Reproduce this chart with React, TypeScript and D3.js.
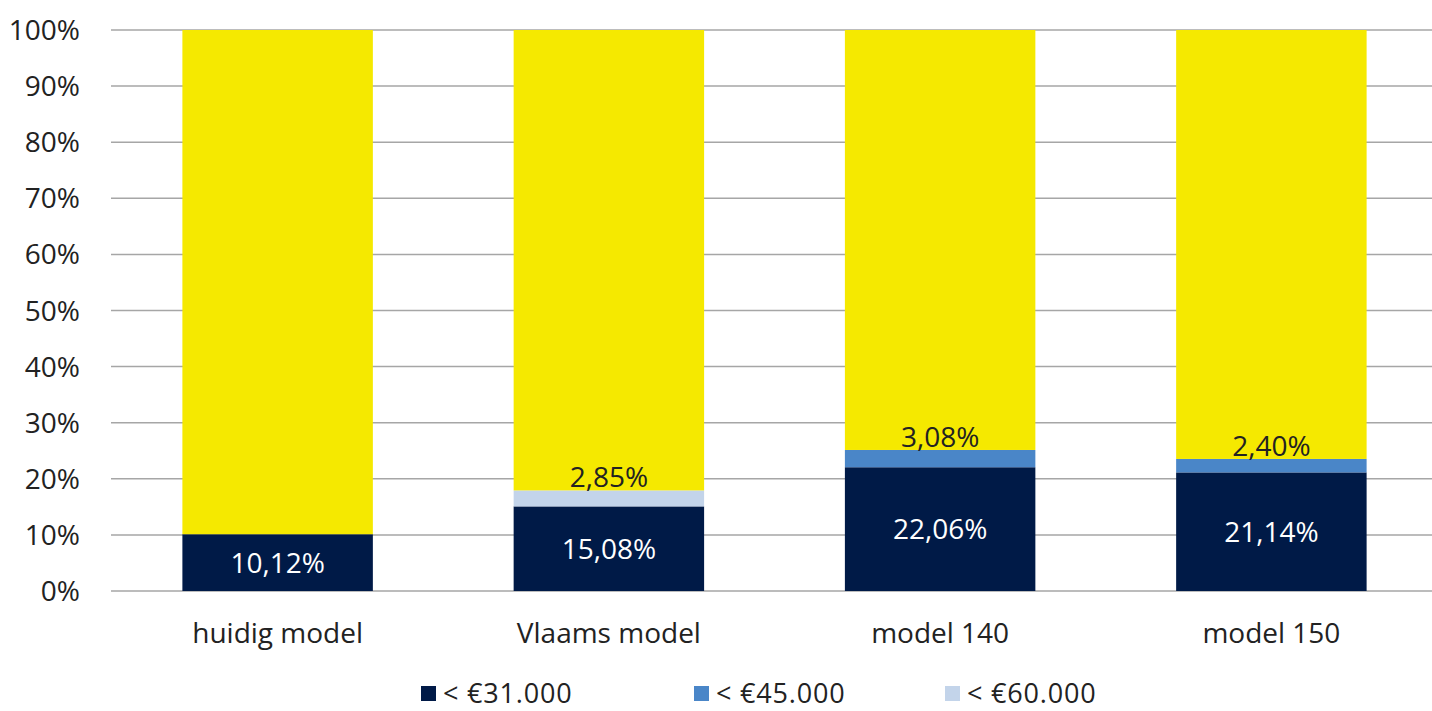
import React from "react";
import * as d3 from "d3";

const categories = ["huidig model", "Vlaams model", "model 140", "model 150"];
const seriesNames = ["< €31.000", "< €45.000", "< €60.000", "rest"];
const below31 = [10.12, 15.08, 22.06, 21.14];
const below45 = [0, 0, 3.08, 2.4];
const below60 = [0, 2.85, 0, 0];
const yTicks = [0, 10, 20, 30, 40, 50, 60, 70, 80, 90, 100];
const colors = ["#001a47", "#4a86c8", "#c3d4ea", "#f5e900"];

const W = 1432;
const H = 711;
const FONT = "'Open Sans', sans-serif";
const FS = 28;

export default function App() {
  const x = d3.scaleBand<string>().domain(categories).range([112, 1437]).paddingInner(0.425).paddingOuter(0.2125);
  const y = d3.scaleLinear().domain([0, 100]).range([591, 30]);

  const rows = categories.map((c, i) => {
    const rest = 100 - below31[i] - below45[i] - below60[i];
    return { cat: c, s0: below31[i], s1: below45[i], s2: below60[i], s3: rest };
  });
  const stack = d3.stack<any>().keys(["s0", "s1", "s2", "s3"])(rows);

  const fmt = (v: number) => v.toFixed(2).replace(".", ",") + "%";

  const legendX = [421, 694, 945];

  return (
    <svg width={W} height={H} style={{ position: "absolute", left: 0, top: 0, background: "#fff" }}>
      <rect x={0} y={0} width={W} height={H} fill="#fff" />
      {yTicks.map((t) => (
        <g key={t}>
          <line x1={111} x2={W} y1={y(t)} y2={y(t)} stroke="#a6a6a6" strokeWidth={1.5} />
          <text x={80} y={y(t)} dy="0.36em" textAnchor="end" fontFamily={FONT} fontSize={FS} fill="#222">
            {t}%
          </text>
        </g>
      ))}
      {stack.map((layer, li) => (
        <g key={li}>
          {layer.map((d, i) =>
            d[1] - d[0] > 0 ? (
              <rect
                key={i}
                x={x(categories[i])!}
                width={x.bandwidth()}
                y={y(d[1])}
                height={y(d[0]) - y(d[1])}
                fill={colors[li]}
              />
            ) : null
          )}
        </g>
      ))}
      {rows.map((r, i) => {
        const cx = x(r.cat)! + x.bandwidth() / 2;
        const small = r.s1 > 0 ? r.s1 : r.s2;
        const top = r.s0 + r.s1 + r.s2;
        return (
          <g key={i}>
            <text x={cx} y={y(r.s0 / 2)} dy="0.36em" textAnchor="middle" fontFamily={FONT} fontSize={FS} fill="#fff">
              {fmt(r.s0)}
            </text>
            {small > 0 && (
              <text x={cx} y={y(top) - 13.5} dy="0.36em" textAnchor="middle" fontFamily={FONT} fontSize={FS} fill="#222">
                {fmt(small)}
              </text>
            )}
          </g>
        );
      })}
      {categories.map((c) => (
        <text key={c} x={x(c)! + x.bandwidth() / 2} y={643} textAnchor="middle" fontFamily={FONT} fontSize={FS} fill="#222">
          {c}
        </text>
      ))}
      {seriesNames.slice(0, 3).map((s, i) => (
        <g key={s}>
          <rect x={legendX[i]} y={686} width={15} height={15} fill={colors[i]} />
          <text x={legendX[i] + 22} y={703} fontFamily={FONT} fontSize={27} letterSpacing={0.8} fill="#222">
            {s}
          </text>
        </g>
      ))}
    </svg>
  );
}
